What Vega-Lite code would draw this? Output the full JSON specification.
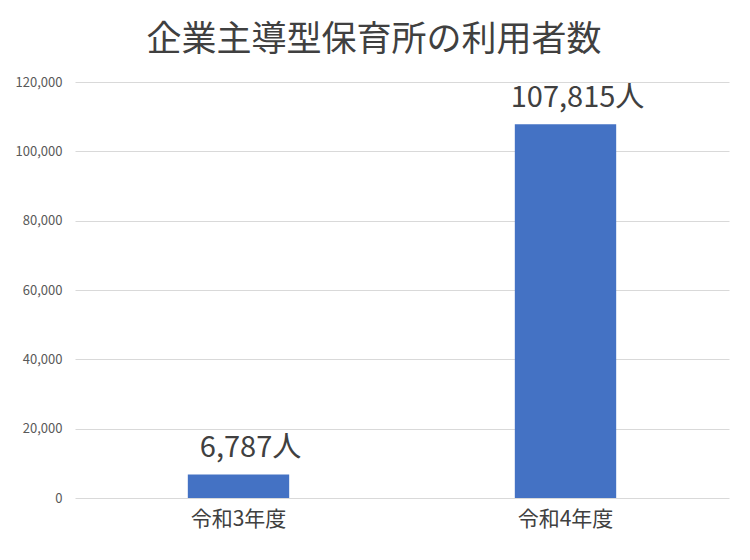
{
  "$schema": "https://vega.github.io/schema/vega-lite/v6.json",
  "width": 654,
  "height": 416,
  "autosize": "none",
  "padding": {"left": 75, "top": 82, "right": 21, "bottom": 62},
  "background": "white",
  "title": {
    "text": "企業主導型保育所の利用者数",
    "fontSize": 35,
    "font": "Noto Sans CJK JP",
    "fontWeight": "normal",
    "color": "#404040",
    "anchor": "middle",
    "dx": -28,
    "offset": -10,
    "baseline": "alphabetic"
  },
  "data": {
    "values": [
      {"year": "令和3年度", "users": 6787},
      {"year": "令和4年度", "users": 107815}
    ]
  },
  "encoding": {
    "x": {
      "field": "year",
      "type": "nominal",
      "sort": null,
      "title": null,
      "scale": {"paddingInner": 0, "paddingOuter": 0},
      "axis": {
        "labelAngle": 0,
        "labelFontSize": 21,
        "labelColor": "#404040",
        "labelPadding": 10,
        "ticks": false,
        "domain": false
      }
    },
    "y": {
      "field": "users",
      "type": "quantitative",
      "title": null,
      "scale": {"domain": [0, 120000], "nice": false},
      "axis": {
        "values": [0, 20000, 40000, 60000, 80000, 100000, 120000],
        "format": ",d",
        "labelFontSize": 13,
        "labelColor": "#595959",
        "labelPadding": 13,
        "ticks": false,
        "domain": false,
        "gridColor": "#D9D9D9"
      }
    }
  },
  "layer": [
    {
      "mark": {"type": "bar", "color": "#4472C4", "width": {"band": 0.31}}
    },
    {
      "mark": {
        "type": "text",
        "fontSize": 29,
        "color": "#404040",
        "baseline": "alphabetic",
        "dx": 12,
        "dy": -17
      },
      "encoding": {
        "text": {"field": "users", "type": "quantitative", "format": "$,"}
      }
    }
  ],
  "config": {
    "font": "Noto Sans CJK JP",
    "view": {"stroke": null},
    "locale": {
      "number": {
        "decimal": ".",
        "thousands": ",",
        "grouping": [3],
        "currency": ["", "人"]
      }
    }
  }
}
